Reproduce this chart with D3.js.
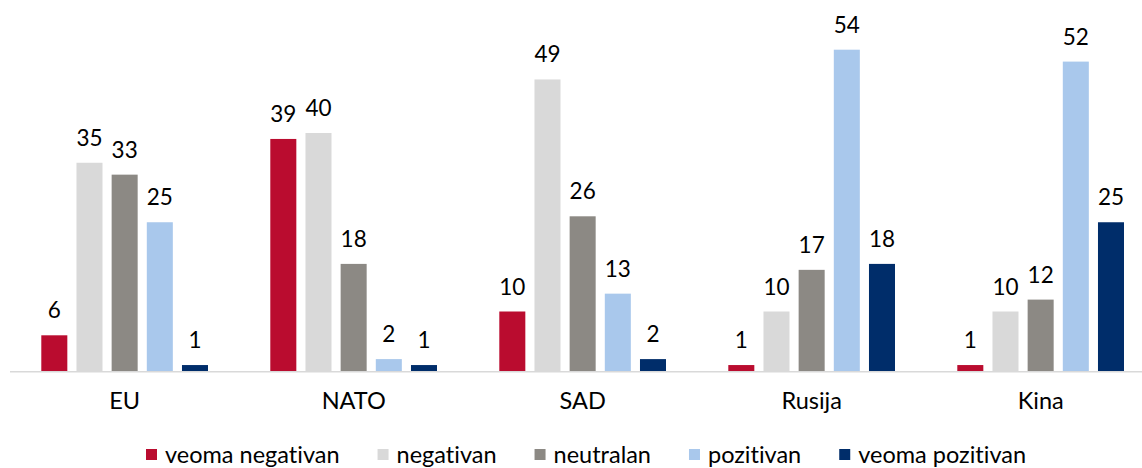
<!DOCTYPE html>
<html>
<head>
<meta charset="utf-8">
<script src="https://cdn.jsdelivr.net/npm/d3@7"></script>
<style>
html,body{margin:0;padding:0;background:#fff;}
svg{display:block;font-family:"Lato","Open Sans",sans-serif;font-variant-ligatures:none;font-feature-settings:"liga" 0;}
</style>
</head>
<body>
<svg id="chart" width="1142" height="468"></svg>
<script>
const categories = ["EU", "NATO", "SAD", "Rusija", "Kina"];
const seriesNames = ["veoma negativan", "negativan", "neutralan", "pozitivan", "veoma pozitivan"];
const seriesColors = ["#BA0C2F", "#D9D9D9", "#8C8984", "#A9C8EC", "#002D6A"];
const veomaNegativan = [6, 39, 10, 1, 1];
const negativan = [35, 40, 49, 10, 10];
const neutralan = [33, 18, 26, 17, 12];
const pozitivan = [25, 2, 13, 54, 52];
const veomaPozitivan = [1, 1, 2, 18, 25];
const seriesValues = [veomaNegativan, negativan, neutralan, pozitivan, veomaPozitivan];

const svg = d3.select("#chart");
const fontSize = 22.5;
const legendFontSize = 23.5;

const x0 = d3.scaleBand().domain(categories).range([10.2, 1155.2]).paddingInner(0).paddingOuter(0);
const x1 = d3.scaleBand().domain(seriesNames).range([31.1, 197.8]).paddingInner(0.26).paddingOuter(0);
const y = d3.scaleLinear().domain([0, 60]).range([371, 14]);

const data = [];
categories.forEach((c, i) => {
  seriesNames.forEach((s, j) => {
    data.push({cat: c, series: s, value: seriesValues[j][i], color: seriesColors[j]});
  });
});

// axis line
const xAxis = d3.axisBottom(x0).tickSize(0).tickPadding(21);
const axisG = svg.append("g").attr("transform", "translate(0,371.7)").call(xAxis);
axisG.select(".domain").attr("stroke", "#D9D9D9").attr("stroke-width", 1.5).attr("d", "M10,0H1142");
axisG.selectAll("text").attr("font-size", 23.5).attr("fill", "#000").attr("font-family", "Lato, 'Open Sans', sans-serif");

// bars
const g = svg.append("g");
g.selectAll("rect").data(data).join("rect")
  .attr("x", d => x0(d.cat) + x1(d.series))
  .attr("width", x1.bandwidth())
  .attr("y", d => y(d.value))
  .attr("height", d => y(0) - y(d.value))
  .attr("fill", d => d.color);

g.selectAll("text.val").data(data).join("text")
  .attr("class", "val")
  .attr("x", d => x0(d.cat) + x1(d.series) + x1.bandwidth() / 2)
  .attr("y", d => y(d.value) - 17)
  .attr("text-anchor", "middle")
  .attr("font-size", fontSize)
  .attr("fill", "#000")
  .text(d => d.value);

// legend
const legend = svg.append("g").attr("transform", "translate(0,463)");
const items = legend.selectAll("g").data(seriesNames).join("g");
items.append("rect").attr("width", 11).attr("height", 11).attr("y", -14)
  .attr("fill", (d, i) => seriesColors[i]);
items.append("text").attr("x", 19).attr("font-size", legendFontSize).attr("fill", "#000").text(d => d);
let xpos = 146;
items.each(function() {
  const node = d3.select(this);
  node.attr("transform", `translate(${xpos},0)`);
  const w = node.node().getBBox().width;
  xpos += w + 38;
});
</script>
</body>
</html>
